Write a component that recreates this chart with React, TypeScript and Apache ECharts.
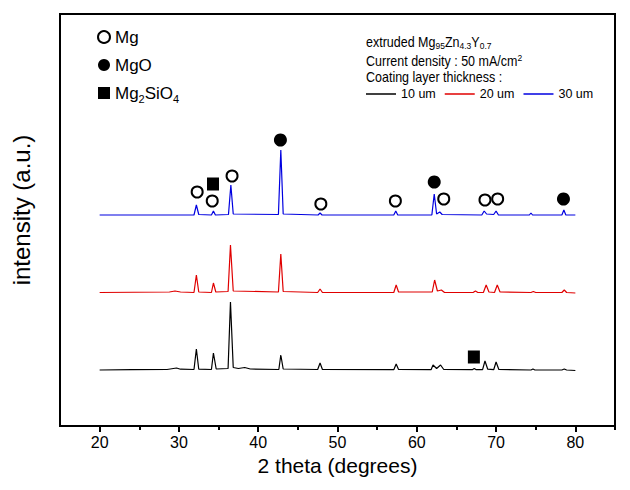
import React, { useEffect, useRef } from 'react';
import * as echarts from 'echarts';

// ---- data ----
const xMajorTicks = [20, 30, 40, 50, 60, 70, 80];
const xMinorTicks = [25, 35, 45, 55, 65, 75, 85];

// 2θ (deg), intensity (a.u., offset traces)
const trace10um: [number, number][] = [
  [20, 56], [24, 56.3], [28.5, 56.5], [29.3, 57.5], [29.7, 58], [30.2, 56.8],
  [31.9, 56.5], [32.2, 77], [32.5, 56.8], [34.1, 56.5], [34.35, 73], [34.7, 57],
  [36.2, 57.5], [36.5, 124], [36.85, 58.5], [37.5, 57.5], [38.3, 58.5], [39, 57],
  [42.6, 56.5], [42.85, 71], [43.15, 57], [47.5, 56.5], [47.8, 63], [48.1, 56.5],
  [57.1, 56.3], [57.4, 62], [57.7, 56.5], [61.8, 56.3], [62.05, 61], [62.5, 57.5],
  [63.0, 61], [63.4, 56.5], [67.0, 56.3], [67.25, 57.5], [67.5, 56.3], [68.3, 56.3],
  [68.6, 65], [68.95, 56.8], [69.7, 56.3], [70.0, 64], [70.35, 56.5], [74.4, 56],
  [74.65, 57], [74.9, 56], [78.3, 56], [78.6, 57], [78.9, 56], [80, 55.5],
];
const trace20um: [number, number][] = [
  [20, 133.5], [28.8, 134], [29.5, 135], [30.2, 134], [31.9, 133.5], [32.2, 151],
  [32.5, 134], [34.1, 133.5], [34.35, 143], [34.65, 134], [36.2, 134.5], [36.5, 181],
  [36.85, 135], [42.55, 134], [42.85, 172], [43.15, 134.5], [47.5, 133.5], [47.8, 137],
  [48.1, 133.5], [57.1, 133.5], [57.4, 141], [57.7, 134], [61.95, 134], [62.25, 146],
  [62.6, 135], [63.1, 136], [63.5, 133.5], [67.1, 133.5], [67.4, 135], [67.7, 133.5],
  [68.4, 133.5], [68.75, 141], [69.1, 134], [69.8, 133.5], [70.15, 141], [70.5, 134],
  [74.4, 133.5], [74.7, 134.5], [75, 133.5], [78.3, 133.5], [78.6, 136], [78.9, 133.5],
  [80, 133],
];
const trace30um: [number, number][] = [
  [20, 211], [31.9, 211], [32.2, 221], [32.5, 211.5], [34.1, 211], [34.35, 215],
  [34.6, 211], [36.25, 211.5], [36.55, 241], [36.85, 212], [42.55, 211.5], [42.85, 276],
  [43.15, 212], [47.55, 211], [47.8, 213], [48.05, 211], [57.1, 211], [57.35, 215],
  [57.6, 211], [61.9, 211], [62.2, 232], [62.5, 212], [62.9, 214], [63.2, 211.5],
  [68.2, 211], [68.5, 215], [68.8, 212], [69.7, 211.5], [70.0, 215], [70.3, 211],
  [74.2, 211], [74.4, 213], [74.6, 211], [78.3, 211], [78.55, 216], [78.8, 211],
  [80, 211],
];

// phase markers
const mgMarks: [number, number][] = [
  [32.3, 234], [34.2, 225], [36.7, 250], [47.9, 222], [57.3, 225], [63.4, 227], [68.6, 226], [70.2, 227],
];
const mgoMarks: [number, number][] = [[42.8, 286], [62.2, 244], [78.5, 227]];
const mg2sio4Marks: [number, number][] = [[34.3, 242], [67.2, 69]];

const SANS = "'Liberation Sans', Arial, sans-serif";

export default function App() {
  const ref = useRef<HTMLDivElement>(null);
  useEffect(() => {
    const chart = echarts.init(ref.current!, null, { renderer: 'svg' });
    const option: any = {
      animation: false,
      backgroundColor: '#fff',
      grid: { left: 60, right: 15, top: 14, bottom: 64, show: true, borderColor: '#000', borderWidth: 2, backgroundColor: 'transparent' },
      xAxis: [
        {
          type: 'value', min: 15, max: 85,
          name: '2 theta (degrees)', nameLocation: 'middle', nameGap: 29,
          nameTextStyle: { fontFamily: SANS, fontSize: 21, color: '#000' },
          axisLine: { lineStyle: { color: '#000', width: 2 } },
          axisTick: { show: true, length: 6, lineStyle: { color: '#000', width: 2 }, customValues: xMajorTicks },
          axisLabel: { color: '#000', fontFamily: SANS, fontSize: 16, margin: 8, customValues: xMajorTicks },
          splitLine: { show: false },
        },
        {
          type: 'value', min: 15, max: 85, position: 'bottom', offset: 0,
          axisLine: { show: false },
          axisTick: { show: true, length: 4, lineStyle: { color: '#000', width: 2 }, customValues: xMinorTicks },
          axisLabel: { show: false },
          splitLine: { show: false },
        },
      ],
      yAxis: {
        type: 'value', min: 0, max: 412,
        name: 'intensity (a.u.)', nameLocation: 'middle', nameGap: 27,
        nameTextStyle: { fontFamily: SANS, fontSize: 24, color: '#000', padding: [0, 0, 0, 20] },
        axisLine: { show: true, lineStyle: { color: '#000', width: 2 } },
        axisTick: { show: false },
        axisLabel: { show: false },
        splitLine: { show: false },
      },
      legend: [
        {
          orient: 'vertical', left: 97, top: 26, padding: 0, itemWidth: 12, itemHeight: 12, itemGap: 6,
          data: [
            { name: 'Mg', icon: 'circle', itemStyle: { color: '#fff', borderColor: '#000', borderWidth: 2, opacity: 1 } },
            { name: 'MgO', icon: 'circle', itemStyle: { color: '#000', borderWidth: 0, opacity: 1 } },
            { name: 'Mg2SiO4', icon: 'rect', itemStyle: { color: '#000', borderWidth: 0, opacity: 1 } },
          ],
          formatter: (n: string) => (n === 'Mg2SiO4' ? 'Mg{sub|2}SiO{sub|4}' : n),
          textStyle: {
            fontFamily: SANS, fontSize: 17, color: '#000', lineHeight: 22,
            rich: { sub: { fontFamily: SANS, fontSize: 11, lineHeight: 8, verticalAlign: 'bottom', color: '#000' } },
          },
          selectedMode: false,
        },
        {
          orient: 'horizontal', left: 366, top: 86, padding: 0, itemWidth: 30, itemHeight: 1.5, itemGap: 9,
          icon: 'rect',
          data: ['10 um', '20 um', '30 um'],
          textStyle: { fontFamily: SANS, fontSize: 12.5, color: '#000', lineHeight: 16 },
          selectedMode: false,
        },
      ],
      graphic: [
        {
          type: 'text', x: 366, y: 42, scaleY: 1.12,
          style: {
            text: 'extruded Mg{sub|95}Zn{sub|4.3}Y{sub|0.7}',
            fontFamily: SANS, fontSize: 12.5, fill: '#000', verticalAlign: 'middle', lineHeight: 15,
            rich: { sub: { fontFamily: SANS, fontSize: 8.5, lineHeight: 4, verticalAlign: 'bottom', fill: '#000' } },
          },
        },
        {
          type: 'text', x: 366, y: 61, scaleY: 1.12,
          style: {
            text: 'Current density : 50 mA/cm{sup|2}',
            fontFamily: SANS, fontSize: 12.5, fill: '#000', verticalAlign: 'middle', lineHeight: 14,
            rich: { sup: { fontFamily: SANS, fontSize: 8.5, lineHeight: 4, verticalAlign: 'top', fill: '#000' } },
          },
        },
        {
          type: 'text', x: 366, y: 77, scaleY: 1.12,
          style: { text: 'Coating layer thickness :', fontFamily: SANS, fontSize: 12.5, fill: '#000', verticalAlign: 'middle', lineHeight: 14 },
        },
      ],
      series: [
        { name: '10 um', type: 'line', data: trace10um, symbol: 'none', lineStyle: { color: '#000', width: 1.2 }, itemStyle: { color: '#000' } },
        { name: '20 um', type: 'line', data: trace20um, symbol: 'none', lineStyle: { color: '#e00000', width: 1.2 }, itemStyle: { color: '#e00000' } },
        { name: '30 um', type: 'line', data: trace30um, symbol: 'none', lineStyle: { color: '#0000e0', width: 1.2 }, itemStyle: { color: '#0000e0' } },
        { name: 'Mg', type: 'scatter', data: mgMarks, symbol: 'circle', symbolSize: 11, itemStyle: { color: '#fff', borderColor: '#000', borderWidth: 2, opacity: 1 }, z: 5 },
        { name: 'MgO', type: 'scatter', data: mgoMarks, symbol: 'circle', symbolSize: 13, itemStyle: { color: '#000', opacity: 1 }, z: 5 },
        { name: 'Mg2SiO4', type: 'scatter', data: mg2sio4Marks, symbol: 'rect', symbolSize: [12, 13], itemStyle: { color: '#000', opacity: 1 }, z: 5 },
      ],
    };
    chart.setOption(option);
    return () => chart.dispose();
  }, []);
  return <div ref={ref} style={{ position: 'fixed', left: 0, top: 0, width: 630, height: 490, background: '#fff' }} />;
}
